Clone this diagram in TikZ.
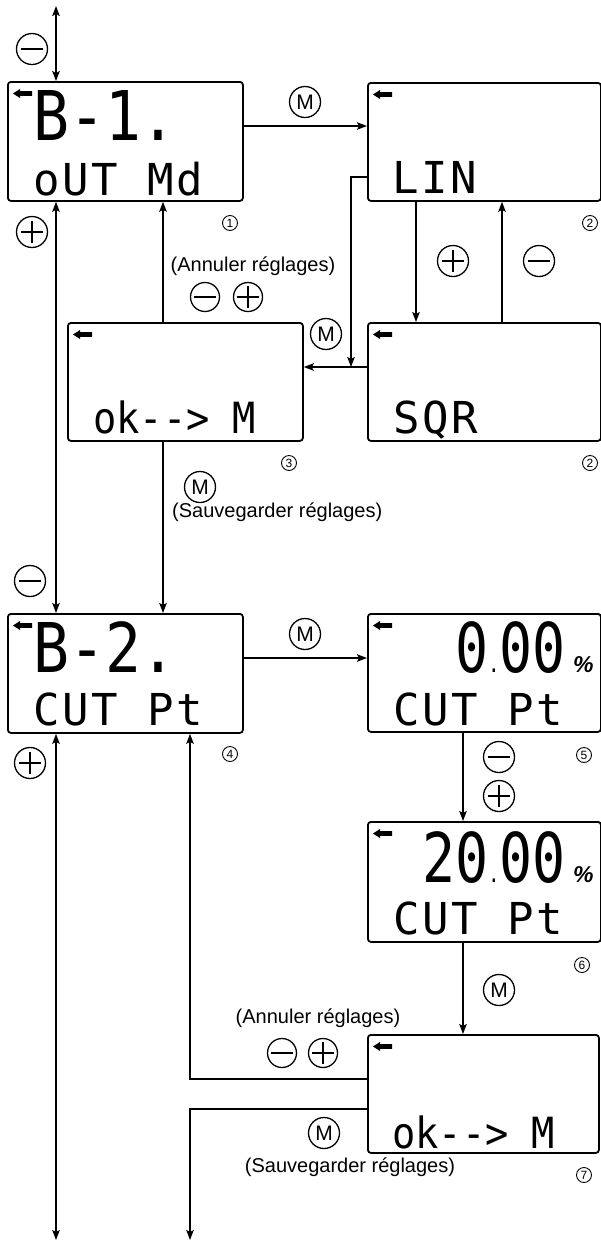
\documentclass[tikz,border=0pt]{standalone}
\usepackage{fontspec}
\setmainfont{Liberation Sans}
\newfontfamily\lcdfont[FakeStretch=0.87]{DejaVu Sans Mono}
\newfontfamily\lcddigits[FakeStretch=0.8]{DejaVu Sans Mono}
\newfontfamily\lcdsmall[LetterSpace=6]{DejaVu Sans Mono}
\newfontfamily\lcdnarrow[FakeStretch=0.9]{DejaVu Sans Mono}
\usetikzlibrary{arrows.meta}
\tikzset{
  lcdbox/.style={draw, line width=1.8pt, rounded corners=3pt, minimum width=235pt, minimum height=119pt, anchor=north west, inner sep=0pt},
  conn/.style={line width=1.4pt},
  arr/.style={conn, -{Stealth[length=10pt,width=7.5pt,inset=2pt]}},
  darr/.style={conn, {Stealth[length=10pt,width=7.5pt,inset=2pt]}-{Stealth[length=10pt,width=7.5pt,inset=2pt]}},
  btn/.style={circle, draw, line width=1.3pt, minimum size=31pt, inner sep=0pt, font=\fontsize{21}{21}\selectfont},
  smallbtn/.style={minimum size=29pt},
  minusbtn/.style={btn, path picture={\draw[line width=1.3pt] ([xshift=-11pt]path picture bounding box.center) -- ([xshift=11pt]path picture bounding box.center);}},
  plusbtn/.style={btn, path picture={\draw[line width=1.3pt] ([xshift=-11pt]path picture bounding box.center) -- ([xshift=11pt]path picture bounding box.center) ([yshift=-11pt]path picture bounding box.center) -- ([yshift=11pt]path picture bounding box.center);}},
  mbtn/.style={btn},
  num/.style={circle, draw, line width=0.9pt, minimum size=15pt, inner sep=0pt, font=\fontsize{12}{12}\selectfont},
  lbl/.style={inner sep=0pt, font=\fontsize{20}{24}\selectfont},
  lcdbig/.style={inner sep=0pt, font=\lcdfont\fontsize{68.6}{70}\selectfont},
  lcddig/.style={inner sep=0pt, font=\lcddigits\fontsize{68.6}{70}\selectfont},
  lcdsm/.style={inner sep=0pt, font=\lcdsmall\fontsize{44}{46}\selectfont},
  lcdok/.style={inner sep=0pt, font=\lcdnarrow\fontsize{43}{45}\selectfont},
  pct/.style={inner sep=0pt, font=\fontsize{23}{23}\selectfont\bfseries\itshape},
  lcdarrow/.pic={\fill (0,0) -- (7,-4.5) -- (7,-2.4) -- (19,-2.4) -- (19,2.4) -- (7,2.4) -- (7,4.5) -- cycle;}
}
\begin{document}
\begin{tikzpicture}[x=1pt,y=-1pt]
\useasboundingbox (0,0) rectangle (601,1243);
% boxes
\node[lcdbox] (b1) at (7,81) {};
\node[lcdbox, minimum width=233pt, minimum height=118pt] (b2) at (367,82) {};
\node[lcdbox, minimum height=118pt] (b3) at (67,322) {};
\node[lcdbox, minimum width=233pt, minimum height=118pt] (b2s) at (367,322) {};
\node[lcdbox] (b4) at (7,613) {};
\node[lcdbox, minimum width=233pt, minimum height=118pt] (b5) at (367,613) {};
\node[lcdbox, minimum width=233pt, minimum height=120pt] (b6) at (367,821) {};
\node[lcdbox, minimum width=231pt, minimum height=118pt] (b7) at (367,1034) {};
% lcd arrows
\foreach \b in {b1,b2,b3,b2s,b4,b5,b6,b7}{
  \pic at ([xshift=6pt,yshift=-12.5pt]\b.north west) {lcdarrow};
}
% lcd texts
\node[lcdbig, anchor=base west] (t1a) at (33,140) {B-1.};
\node[lcdsm, anchor=base west] (t1b) at (33,195) {oUT Md};
\node[lcdsm, anchor=base west] (t2) at (392,193) {LIN};
\node[lcdsm, anchor=base west] (t2s) at (393,433) {SQR};
\node[lcdok, anchor=base west] (t3) at (93,433) {ok-{}-{}> M};
\node[lcdbig, anchor=base west] (t4a) at (33,672) {B-2.};
\node[lcdsm, anchor=base west] (t4b) at (33,725) {CUT Pt};
\node[lcddig, anchor=base east] (t5a) at (566,672) {0{\fontsize{24}{24}\selectfont.}00};
\node[pct, anchor=base west] (p5) at (573,672) {\%};
\node[lcdsm, anchor=base west] (t5b) at (393,725) {CUT Pt};
\node[lcddig, anchor=base east] (t6a) at (566,882) {20{\fontsize{24}{24}\selectfont.}00};
\node[pct, anchor=base west] (p6) at (573,882) {\%};
\node[lcdsm, anchor=base west] (t6b) at (393,934) {CUT Pt};
\node[lcdok, anchor=base west] (t7) at (392,1148) {ok-{}-{}> M};
% connectors
\coordinate (top) at (56,6);
\draw[darr] (top) -- (b1.north -| top);
\node[minusbtn] (k1) at (32,49) {};

\coordinate (r1) at (0,126);
\draw[arr] (b1.east |- r1) -- (b2.west |- r1);
\node[mbtn] (m1) at (305,102) {M};

\coordinate (c1) at (351,177);
\coordinate (j1) at (351,367);
\draw[arr] (b2.west |- c1) -- (c1) -- (j1);
\draw[arr] (b2s.west |- j1) -- (b3.east |- j1);
\node[mbtn] (m2) at (326,334) {M};

\coordinate (v1) at (416,0);
\draw[arr] (b2.south -| v1) -- (b2s.north -| v1);
\node[plusbtn] (k2) at (453,261) {};
\coordinate (v2) at (502,0);
\draw[arr] (b2s.north -| v2) -- (b2.south -| v2);
\node[minusbtn] (k3) at (539,261) {};

\coordinate (v3) at (163,0);
\draw[arr] (b3.north -| v3) -- (b1.south -| v3);
\node[lbl] (a1) at (253,266) {(Annuler réglages)};
\node[minusbtn, smallbtn] (k4) at (205,297) {};
\node[plusbtn, smallbtn] (k5) at (248,297) {};

\coordinate (v4) at (56,0);
\draw[darr] (b1.south -| v4) -- (b4.north -| v4);
\node[plusbtn] (k6) at (32,232) {};
\node[minusbtn] (k7) at (30,581) {};

\draw[arr] (b3.south -| v3) -- (b4.north -| v3);
\node[mbtn] (m3) at (200,487) {M};
\node[lbl, anchor=west] (s1) at (172,512) {(Sauvegarder réglages)};

\coordinate (r2) at (0,658);
\draw[arr] (b4.east |- r2) -- (b5.west |- r2);
\node[mbtn] (m4) at (305,634) {M};

\coordinate (v5) at (463,0);
\draw[arr] (b5.south -| v5) -- (b6.north -| v5);
\node[minusbtn] (k8) at (499,757) {};
\node[plusbtn] (k9) at (499,796) {};
\draw[arr] (b6.south -| v5) -- (b7.north -| v5);
\node[mbtn] (m5) at (499,990) {M};

\coordinate (c2) at (190,1079);
\draw[arr] (b7.west |- c2) -- (c2) -- (b4.south -| c2);
\node[lbl] (a2) at (318,1018) {(Annuler réglages)};
\node[minusbtn, smallbtn] (k10) at (282,1053) {};
\node[plusbtn, smallbtn] (k11) at (323,1053) {};

\coordinate (c3) at (190,1109);
\coordinate (e1) at (190,1240);
\draw[arr] (b7.west |- c3) -- (c3) -- (e1);
\node[mbtn] (m6) at (324,1133) {M};
\node[lbl] (s2) at (350,1167) {(Sauvegarder réglages)};

\coordinate (e2) at (56,1240);
\draw[darr] (b4.south -| e2) -- (e2);
\node[plusbtn] (k12) at (30,763) {};
% step numbers
\node[num] (n1) at (230,223) {1};
\node[num] (n2) at (590,223) {2};
\node[num] (n3) at (289,463) {3};
\node[num] (n2b) at (590,463) {2};
\node[num] (n4) at (230,754) {4};
\node[num] (n5) at (584,755) {5};
\node[num] (n6) at (582,965) {6};
\node[num] (n7) at (584,1175) {7};
\end{tikzpicture}
\end{document}
